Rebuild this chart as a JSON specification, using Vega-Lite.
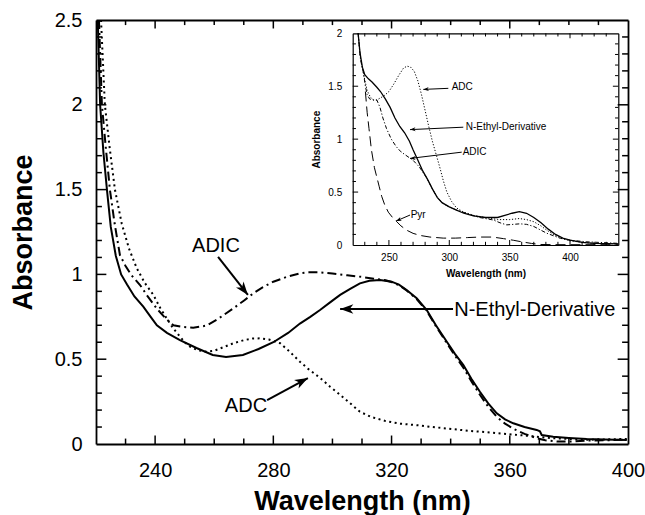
{
  "$schema": "https://vega.github.io/schema/vega-lite/v6.json",
  "width": 532,
  "height": 424,
  "autosize": {"type": "none"},
  "padding": {"left": 96, "top": 20, "right": 17, "bottom": 71},
  "background": "white",
  "config": {
    "view": {"stroke": null},
    "font": "Liberation Sans",
    "axis": {"grid": false, "ticks": false, "domainColor": "black", "labelColor": "black", "titleColor": "black", "labelFont": "Liberation Sans", "titleFont": "Liberation Sans", "labelOverlap": false, "labelFlush": false}
  },
  "datasets": {
    "main": [
      {"s":"NEt","wl":220.6,"a":2.5},{"s":"NEt","wl":221.4,"a":2.0},{"s":"NEt","wl":222.5,"a":1.72},{"s":"NEt","wl":223.7,"a":1.5},{"s":"NEt","wl":225,"a":1.28},{"s":"NEt","wl":226.7,"a":1.11},{"s":"NEt","wl":228.5,"a":1.0},{"s":"NEt","wl":230.5,"a":0.94},{"s":"NEt","wl":233,"a":0.87},{"s":"NEt","wl":236,"a":0.81},{"s":"NEt","wl":238.5,"a":0.75},{"s":"NEt","wl":240.6,"a":0.70},{"s":"NEt","wl":244,"a":0.655},{"s":"NEt","wl":248.4,"a":0.613},{"s":"NEt","wl":254,"a":0.566},{"s":"NEt","wl":259.5,"a":0.525},{"s":"NEt","wl":264,"a":0.513},{"s":"NEt","wl":269.7,"a":0.525},{"s":"NEt","wl":275,"a":0.56},{"s":"NEt","wl":280,"a":0.60},{"s":"NEt","wl":285,"a":0.655},{"s":"NEt","wl":289,"a":0.71},{"s":"NEt","wl":292.5,"a":0.75},{"s":"NEt","wl":295.8,"a":0.79},{"s":"NEt","wl":299.2,"a":0.835},{"s":"NEt","wl":302.6,"a":0.879},{"s":"NEt","wl":306,"a":0.915},{"s":"NEt","wl":309.3,"a":0.947},{"s":"NEt","wl":312.5,"a":0.962},{"s":"NEt","wl":316.1,"a":0.967},{"s":"NEt","wl":320,"a":0.957},{"s":"NEt","wl":322.5,"a":0.94},{"s":"NEt","wl":325.1,"a":0.908},{"s":"NEt","wl":328.5,"a":0.86},{"s":"NEt","wl":331.9,"a":0.79},{"s":"NEt","wl":335,"a":0.70},{"s":"NEt","wl":338.7,"a":0.603},{"s":"NEt","wl":341.5,"a":0.53},{"s":"NEt","wl":344.3,"a":0.466},{"s":"NEt","wl":347,"a":0.385},{"s":"NEt","wl":349.9,"a":0.308},{"s":"NEt","wl":352.7,"a":0.24},{"s":"NEt","wl":355.6,"a":0.181},{"s":"NEt","wl":358.4,"a":0.145},{"s":"NEt","wl":361.2,"a":0.122},{"s":"NEt","wl":365,"a":0.10},{"s":"NEt","wl":369.1,"a":0.083},{"s":"NEt","wl":370.2,"a":0.075},{"s":"NEt","wl":370.8,"a":0.053},{"s":"NEt","wl":374.7,"a":0.043},{"s":"NEt","wl":380,"a":0.036},{"s":"NEt","wl":386,"a":0.03},{"s":"NEt","wl":392,"a":0.027},{"s":"NEt","wl":399.6,"a":0.024},
      {"s":"ADIC","wl":221,"a":2.5},{"s":"ADIC","wl":222,"a":2.0},{"s":"ADIC","wl":223.3,"a":1.75},{"s":"ADIC","wl":224.7,"a":1.5},{"s":"ADIC","wl":226.3,"a":1.3},{"s":"ADIC","wl":228.1,"a":1.114},{"s":"ADIC","wl":230,"a":1.05},{"s":"ADIC","wl":232,"a":0.995},{"s":"ADIC","wl":234.9,"a":0.9375},{"s":"ADIC","wl":237.5,"a":0.87},{"s":"ADIC","wl":240.5,"a":0.80},{"s":"ADIC","wl":243.3,"a":0.745},{"s":"ADIC","wl":246.2,"a":0.70},{"s":"ADIC","wl":249.5,"a":0.69},{"s":"ADIC","wl":252.9,"a":0.686},{"s":"ADIC","wl":257.4,"a":0.698},{"s":"ADIC","wl":261.5,"a":0.74},{"s":"ADIC","wl":266.5,"a":0.80},{"s":"ADIC","wl":270,"a":0.845},{"s":"ADIC","wl":273.2,"a":0.888},{"s":"ADIC","wl":276.5,"a":0.925},{"s":"ADIC","wl":280,"a":0.957},{"s":"ADIC","wl":284.5,"a":0.985},{"s":"ADIC","wl":289,"a":1.006},{"s":"ADIC","wl":292,"a":1.012},{"s":"ADIC","wl":295.8,"a":1.012},{"s":"ADIC","wl":300,"a":1.005},{"s":"ADIC","wl":305,"a":0.995},{"s":"ADIC","wl":310,"a":0.985},{"s":"ADIC","wl":314,"a":0.975},{"s":"ADIC","wl":318,"a":0.965},{"s":"ADIC","wl":320,"a":0.955},{"s":"ADIC","wl":322.5,"a":0.937},{"s":"ADIC","wl":325.1,"a":0.905},{"s":"ADIC","wl":328.5,"a":0.855},{"s":"ADIC","wl":331.9,"a":0.785},{"s":"ADIC","wl":335,"a":0.695},{"s":"ADIC","wl":338.7,"a":0.595},{"s":"ADIC","wl":341.5,"a":0.52},{"s":"ADIC","wl":344.3,"a":0.45},{"s":"ADIC","wl":347,"a":0.37},{"s":"ADIC","wl":349.9,"a":0.29},{"s":"ADIC","wl":352.7,"a":0.22},{"s":"ADIC","wl":355.6,"a":0.16},{"s":"ADIC","wl":358.4,"a":0.12},{"s":"ADIC","wl":361.2,"a":0.09},{"s":"ADIC","wl":365,"a":0.06},{"s":"ADIC","wl":369,"a":0.035},{"s":"ADIC","wl":372,"a":0.022},{"s":"ADIC","wl":376,"a":0.015},{"s":"ADIC","wl":381,"a":0.015},{"s":"ADIC","wl":386,"a":0.02},{"s":"ADIC","wl":392,"a":0.022},{"s":"ADIC","wl":399.6,"a":0.025},
      {"s":"ADC","wl":221.7,"a":2.5},{"s":"ADC","wl":223,"a":2.0},{"s":"ADC","wl":224.6,"a":1.75},{"s":"ADC","wl":226.4,"a":1.5},{"s":"ADC","wl":228.7,"a":1.3},{"s":"ADC","wl":231.2,"a":1.15},{"s":"ADC","wl":233.8,"a":1.036},{"s":"ADC","wl":236.5,"a":0.95},{"s":"ADC","wl":239.4,"a":0.879},{"s":"ADC","wl":241.8,"a":0.80},{"s":"ADC","wl":243.9,"a":0.741},{"s":"ADC","wl":246,"a":0.685},{"s":"ADC","wl":248.4,"a":0.633},{"s":"ADC","wl":250,"a":0.60},{"s":"ADC","wl":251.8,"a":0.574},{"s":"ADC","wl":254.5,"a":0.553},{"s":"ADC","wl":257.4,"a":0.544},{"s":"ADC","wl":260,"a":0.55},{"s":"ADC","wl":263,"a":0.57},{"s":"ADC","wl":266.5,"a":0.594},{"s":"ADC","wl":270,"a":0.612},{"s":"ADC","wl":273,"a":0.622},{"s":"ADC","wl":275.5,"a":0.623},{"s":"ADC","wl":278.5,"a":0.616},{"s":"ADC","wl":282.3,"a":0.594},{"s":"ADC","wl":285.5,"a":0.545},{"s":"ADC","wl":289,"a":0.485},{"s":"ADC","wl":292,"a":0.44},{"s":"ADC","wl":295.8,"a":0.39},{"s":"ADC","wl":299.2,"a":0.338},{"s":"ADC","wl":302.6,"a":0.29},{"s":"ADC","wl":306,"a":0.24},{"s":"ADC","wl":309.3,"a":0.19},{"s":"ADC","wl":313,"a":0.16},{"s":"ADC","wl":318,"a":0.135},{"s":"ADC","wl":323,"a":0.12},{"s":"ADC","wl":329,"a":0.11},{"s":"ADC","wl":335,"a":0.098},{"s":"ADC","wl":340.6,"a":0.088},{"s":"ADC","wl":346,"a":0.078},{"s":"ADC","wl":352,"a":0.07},{"s":"ADC","wl":358,"a":0.06},{"s":"ADC","wl":363,"a":0.053},{"s":"ADC","wl":368,"a":0.045},{"s":"ADC","wl":374,"a":0.035},{"s":"ADC","wl":380,"a":0.03},{"s":"ADC","wl":386,"a":0.025},{"s":"ADC","wl":392,"a":0.027},{"s":"ADC","wl":399.6,"a":0.03}
    ],
    "inset": [
      {"s":"NEt","wl":224.5,"a":2.0},{"s":"NEt","wl":226,"a":1.82},{"s":"NEt","wl":228,"a":1.68},{"s":"NEt","wl":230,"a":1.61},{"s":"NEt","wl":233,"a":1.57},{"s":"NEt","wl":236,"a":1.54},{"s":"NEt","wl":240,"a":1.49},{"s":"NEt","wl":243,"a":1.45},{"s":"NEt","wl":247,"a":1.38},{"s":"NEt","wl":251,"a":1.30},{"s":"NEt","wl":255,"a":1.20},{"s":"NEt","wl":259,"a":1.12},{"s":"NEt","wl":263,"a":1.06},{"s":"NEt","wl":267,"a":0.98},{"s":"NEt","wl":270,"a":0.90},{"s":"NEt","wl":274,"a":0.80},{"s":"NEt","wl":278,"a":0.70},{"s":"NEt","wl":282,"a":0.62},{"s":"NEt","wl":286,"a":0.53},{"s":"NEt","wl":290,"a":0.45},{"s":"NEt","wl":294,"a":0.40},{"s":"NEt","wl":300,"a":0.36},{"s":"NEt","wl":306,"a":0.33},{"s":"NEt","wl":312,"a":0.30},{"s":"NEt","wl":320,"a":0.275},{"s":"NEt","wl":330,"a":0.26},{"s":"NEt","wl":340,"a":0.26},{"s":"NEt","wl":346,"a":0.28},{"s":"NEt","wl":352,"a":0.30},{"s":"NEt","wl":358,"a":0.315},{"s":"NEt","wl":364,"a":0.30},{"s":"NEt","wl":370,"a":0.26},{"s":"NEt","wl":376,"a":0.21},{"s":"NEt","wl":382,"a":0.15},{"s":"NEt","wl":388,"a":0.10},{"s":"NEt","wl":394,"a":0.065},{"s":"NEt","wl":400,"a":0.045},{"s":"NEt","wl":410,"a":0.025},{"s":"NEt","wl":420,"a":0.015},{"s":"NEt","wl":440,"a":0.01},
      {"s":"ADC","wl":224.5,"a":2.0},{"s":"ADC","wl":226,"a":1.80},{"s":"ADC","wl":227.4,"a":1.71},{"s":"ADC","wl":230,"a":1.56},{"s":"ADC","wl":232,"a":1.46},{"s":"ADC","wl":234.5,"a":1.40},{"s":"ADC","wl":237,"a":1.37},{"s":"ADC","wl":240,"a":1.37},{"s":"ADC","wl":243,"a":1.39},{"s":"ADC","wl":246,"a":1.41},{"s":"ADC","wl":250,"a":1.45},{"s":"ADC","wl":254,"a":1.52},{"s":"ADC","wl":258,"a":1.60},{"s":"ADC","wl":262,"a":1.67},{"s":"ADC","wl":265,"a":1.69},{"s":"ADC","wl":268,"a":1.68},{"s":"ADC","wl":271,"a":1.64},{"s":"ADC","wl":274,"a":1.55},{"s":"ADC","wl":277,"a":1.42},{"s":"ADC","wl":280,"a":1.27},{"s":"ADC","wl":283,"a":1.12},{"s":"ADC","wl":286,"a":0.98},{"s":"ADC","wl":289,"a":0.86},{"s":"ADC","wl":292,"a":0.74},{"s":"ADC","wl":295,"a":0.61},{"s":"ADC","wl":298,"a":0.50},{"s":"ADC","wl":302,"a":0.41},{"s":"ADC","wl":306,"a":0.35},{"s":"ADC","wl":312,"a":0.31},{"s":"ADC","wl":320,"a":0.28},{"s":"ADC","wl":330,"a":0.26},{"s":"ADC","wl":340,"a":0.24},{"s":"ADC","wl":350,"a":0.24},{"s":"ADC","wl":358,"a":0.25},{"s":"ADC","wl":364,"a":0.24},{"s":"ADC","wl":370,"a":0.22},{"s":"ADC","wl":376,"a":0.18},{"s":"ADC","wl":382,"a":0.13},{"s":"ADC","wl":388,"a":0.09},{"s":"ADC","wl":394,"a":0.06},{"s":"ADC","wl":400,"a":0.04},{"s":"ADC","wl":410,"a":0.025},{"s":"ADC","wl":420,"a":0.015},{"s":"ADC","wl":440,"a":0.01},
      {"s":"ADIC","wl":224.5,"a":2.0},{"s":"ADIC","wl":226.5,"a":1.75},{"s":"ADIC","wl":228.8,"a":1.63},{"s":"ADIC","wl":230.5,"a":1.50},{"s":"ADIC","wl":232,"a":1.42},{"s":"ADIC","wl":234,"a":1.38},{"s":"ADIC","wl":237,"a":1.37},{"s":"ADIC","wl":240,"a":1.37},{"s":"ADIC","wl":242.6,"a":1.30},{"s":"ADIC","wl":245,"a":1.20},{"s":"ADIC","wl":248,"a":1.10},{"s":"ADIC","wl":252,"a":1.00},{"s":"ADIC","wl":256,"a":0.93},{"s":"ADIC","wl":260,"a":0.88},{"s":"ADIC","wl":265,"a":0.84},{"s":"ADIC","wl":270,"a":0.80},{"s":"ADIC","wl":275,"a":0.74},{"s":"ADIC","wl":281,"a":0.64},{"s":"ADIC","wl":286,"a":0.53},{"s":"ADIC","wl":290,"a":0.45},{"s":"ADIC","wl":295,"a":0.39},{"s":"ADIC","wl":300,"a":0.36},{"s":"ADIC","wl":306,"a":0.33},{"s":"ADIC","wl":314,"a":0.30},{"s":"ADIC","wl":325,"a":0.26},{"s":"ADIC","wl":336.5,"a":0.236},{"s":"ADIC","wl":342,"a":0.21},{"s":"ADIC","wl":347.6,"a":0.19},{"s":"ADIC","wl":353,"a":0.195},{"s":"ADIC","wl":358.6,"a":0.20},{"s":"ADIC","wl":364,"a":0.195},{"s":"ADIC","wl":370,"a":0.175},{"s":"ADIC","wl":375,"a":0.145},{"s":"ADIC","wl":381,"a":0.11},{"s":"ADIC","wl":388,"a":0.08},{"s":"ADIC","wl":392,"a":0.063},{"s":"ADIC","wl":400,"a":0.045},{"s":"ADIC","wl":414,"a":0.03},{"s":"ADIC","wl":439,"a":0.016},
      {"s":"Pyr","wl":230.5,"a":1.45},{"s":"Pyr","wl":232,"a":1.25},{"s":"Pyr","wl":233.5,"a":1.10},{"s":"Pyr","wl":235.5,"a":0.90},{"s":"Pyr","wl":238,"a":0.73},{"s":"Pyr","wl":240,"a":0.64},{"s":"Pyr","wl":242,"a":0.55},{"s":"Pyr","wl":244,"a":0.46},{"s":"Pyr","wl":246.5,"a":0.38},{"s":"Pyr","wl":249.5,"a":0.31},{"s":"Pyr","wl":253,"a":0.26},{"s":"Pyr","wl":256.5,"a":0.22},{"s":"Pyr","wl":260,"a":0.18},{"s":"Pyr","wl":264.7,"a":0.14},{"s":"Pyr","wl":270,"a":0.11},{"s":"Pyr","wl":276,"a":0.09},{"s":"Pyr","wl":284,"a":0.075},{"s":"Pyr","wl":295,"a":0.065},{"s":"Pyr","wl":305,"a":0.065},{"s":"Pyr","wl":315,"a":0.07},{"s":"Pyr","wl":325,"a":0.075},{"s":"Pyr","wl":336,"a":0.075},{"s":"Pyr","wl":345,"a":0.06},{"s":"Pyr","wl":353,"a":0.045},{"s":"Pyr","wl":360,"a":0.03},{"s":"Pyr","wl":368,"a":0.015},{"s":"Pyr","wl":375,"a":0.005},{"s":"Pyr","wl":390,"a":0.003},{"s":"Pyr","wl":440,"a":0.003}
    ],
    "labels": [
      {"p":"main","t":"ADIC","wl":252.5,"a":1.167},
      {"p":"main","t":"ADC","wl":263.6,"a":0.227},
      {"p":"main","t":"N-Ethyl-Derivative","wl":341.2,"a":0.79},
      {"p":"inset","t":"ADC","wl":302.0,"a":1.49},
      {"p":"inset","t":"N-Ethyl-Derivative","wl":313.6,"a":1.113},
      {"p":"inset","t":"ADIC","wl":311.1,"a":0.875},
      {"p":"inset","t":"Pyr","wl":268.0,"a":0.283}
    ],
    "arrows": [
      {"p":"main","id":"ADIC","wl":261.3,"a":1.103,"wl2":271.4,"a2":0.879},
      {"p":"main","id":"ADC","wl":277.9,"a":0.259,"wl2":291.7,"a2":0.389},
      {"p":"main","id":"NEt","wl":340.8,"a":0.796,"wl2":302.6,"a2":0.796},
      {"p":"inset","id":"ADC","wl":299.2,"a":1.48,"wl2":278.5,"a2":1.47},
      {"p":"inset","id":"NEt","wl":311.6,"a":1.113,"wl2":267.5,"a2":1.09},
      {"p":"inset","id":"ADIC","wl":310.3,"a":0.877,"wl2":267.5,"a2":0.818},
      {"p":"inset","id":"Pyr","wl":267.5,"a":0.283,"wl2":255.9,"a2":0.226}
    ],
    "ticks": [
      {"g":"mx","v":230,"m":false},{"g":"mx","v":240,"m":true},{"g":"mx","v":250,"m":false},{"g":"mx","v":260,"m":false},{"g":"mx","v":270,"m":false},{"g":"mx","v":280,"m":true},{"g":"mx","v":290,"m":false},{"g":"mx","v":300,"m":false},{"g":"mx","v":310,"m":false},{"g":"mx","v":320,"m":true},{"g":"mx","v":330,"m":false},{"g":"mx","v":340,"m":false},{"g":"mx","v":350,"m":false},{"g":"mx","v":360,"m":true},{"g":"mx","v":370,"m":false},{"g":"mx","v":380,"m":false},{"g":"mx","v":390,"m":false},
      {"g":"my","v":0.1,"m":false},{"g":"my","v":0.2,"m":false},{"g":"my","v":0.3,"m":false},{"g":"my","v":0.4,"m":false},{"g":"my","v":0.5,"m":true},{"g":"my","v":0.6,"m":false},{"g":"my","v":0.7,"m":false},{"g":"my","v":0.8,"m":false},{"g":"my","v":0.9,"m":false},{"g":"my","v":1.0,"m":true},{"g":"my","v":1.1,"m":false},{"g":"my","v":1.2,"m":false},{"g":"my","v":1.3,"m":false},{"g":"my","v":1.4,"m":false},{"g":"my","v":1.5,"m":true},{"g":"my","v":1.6,"m":false},{"g":"my","v":1.7,"m":false},{"g":"my","v":1.8,"m":false},{"g":"my","v":1.9,"m":false},{"g":"my","v":2.0,"m":true},{"g":"my","v":2.1,"m":false},{"g":"my","v":2.2,"m":false},{"g":"my","v":2.3,"m":false},{"g":"my","v":2.4,"m":false},
      {"g":"ix","v":230,"m":false},{"g":"ix","v":240,"m":false},{"g":"ix","v":250,"m":true},{"g":"ix","v":260,"m":false},{"g":"ix","v":270,"m":false},{"g":"ix","v":280,"m":false},{"g":"ix","v":290,"m":false},{"g":"ix","v":300,"m":true},{"g":"ix","v":310,"m":false},{"g":"ix","v":320,"m":false},{"g":"ix","v":330,"m":false},{"g":"ix","v":340,"m":false},{"g":"ix","v":350,"m":true},{"g":"ix","v":360,"m":false},{"g":"ix","v":370,"m":false},{"g":"ix","v":380,"m":false},{"g":"ix","v":390,"m":false},{"g":"ix","v":400,"m":true},{"g":"ix","v":410,"m":false},{"g":"ix","v":420,"m":false},{"g":"ix","v":430,"m":false},
      {"g":"iy","v":0.1,"m":false},{"g":"iy","v":0.2,"m":false},{"g":"iy","v":0.3,"m":false},{"g":"iy","v":0.4,"m":false},{"g":"iy","v":0.5,"m":true},{"g":"iy","v":0.6,"m":false},{"g":"iy","v":0.7,"m":false},{"g":"iy","v":0.8,"m":false},{"g":"iy","v":0.9,"m":false},{"g":"iy","v":1.0,"m":true},{"g":"iy","v":1.1,"m":false},{"g":"iy","v":1.2,"m":false},{"g":"iy","v":1.3,"m":false},{"g":"iy","v":1.4,"m":false},{"g":"iy","v":1.5,"m":true},{"g":"iy","v":1.6,"m":false},{"g":"iy","v":1.7,"m":false},{"g":"iy","v":1.8,"m":false},{"g":"iy","v":1.9,"m":false}
    ]
  },
  "resolve": {"scale": {"x": "independent", "y": "independent"}},
  "layer": [
    {
      "resolve": {"axis": {"x": "independent", "y": "independent"}},
      "layer": [
        {
          "data": {"name": "main"},
          "transform": [{"filter": "datum.s === 'NEt'"}],
          "mark": {"type": "line", "color": "black", "strokeWidth": 2, "clip": true},
          "encoding": {
            "x": {"field": "wl", "type": "quantitative", "scale": {"domain": [220, 400], "nice": false, "zero": false},
              "axis": {"orient": "bottom", "values": [240, 280, 320, 360, 400], "ticks": false, "domainWidth": 1.8, "labelFontSize": 20, "labelPadding": 16,
                "title": "Wavelength (nm)", "titleFontSize": 27, "titleFontWeight": "bold", "titleX": 266, "titleY": 65, "titleBaseline": "alphabetic"}},
            "y": {"field": "a", "type": "quantitative", "scale": {"domain": [0, 2.5], "nice": false, "zero": false},
              "axis": {"orient": "left", "values": [0, 0.5, 1, 1.5, 2, 2.5], "format": "~g", "ticks": false, "domainWidth": 1.8, "labelFontSize": 20, "labelPadding": 14,
                "title": "Absorbance", "titleFontSize": 27, "titleFontWeight": "bold", "titleX": -73, "titleY": 212, "titleBaseline": "middle", "titleAngle": -90}}
          }
        },
        {
          "data": {"name": "main"},
          "transform": [{"filter": "datum.s === 'ADIC'"}],
          "mark": {"type": "line", "color": "black", "strokeWidth": 2, "strokeDash": [9, 4, 2, 4], "clip": true},
          "encoding": {
            "x": {"field": "wl", "type": "quantitative", "scale": {"domain": [220, 400], "nice": false, "zero": false},
              "axis": {"orient": "top", "values": [240, 280, 320, 360, 400], "labels": false, "domain": true, "domainWidth": 1.8, "ticks": false, "title": null}},
            "y": {"field": "a", "type": "quantitative", "scale": {"domain": [0, 2.5], "nice": false, "zero": false},
              "axis": {"orient": "right", "values": [0, 0.5, 1, 1.5, 2, 2.5], "labels": false, "domain": true, "domainWidth": 1.8, "ticks": false, "title": null}}
          }
        },
        {
          "data": {"name": "main"},
          "transform": [{"filter": "datum.s === 'ADC'"}],
          "mark": {"type": "line", "color": "black", "strokeWidth": 2, "strokeDash": [2, 3.5], "clip": true},
          "encoding": {
            "x": {"field": "wl", "type": "quantitative", "scale": {"domain": [220, 400], "nice": false, "zero": false}, "axis": null},
            "y": {"field": "a", "type": "quantitative", "scale": {"domain": [0, 2.5], "nice": false, "zero": false}, "axis": null}
          }
        },
        {
          "data": {"name": "ticks"},
          "transform": [{"filter": "datum.g === 'mx' && datum.m"}],
          "mark": {"type": "rule", "color": "black", "strokeWidth": 1.5},
          "encoding": {
            "x": {"field": "v", "type": "quantitative", "scale": {"domain": [220, 400], "nice": false, "zero": false}, "axis": null},
            "y": {"datum": 0, "type": "quantitative", "scale": {"domain": [0, 2.5], "nice": false, "zero": false}, "axis": null},
            "y2": {"datum": 0.05}
          }
        },
        {
          "data": {"name": "ticks"},
          "transform": [{"filter": "datum.g === 'mx' && !datum.m"}],
          "mark": {"type": "rule", "color": "black", "strokeWidth": 1.5},
          "encoding": {
            "x": {"field": "v", "type": "quantitative", "scale": {"domain": [220, 400], "nice": false, "zero": false}, "axis": null},
            "y": {"datum": 0, "type": "quantitative", "scale": {"domain": [0, 2.5], "nice": false, "zero": false}, "axis": null},
            "y2": {"datum": 0.032}
          }
        },
        {
          "data": {"name": "ticks"},
          "transform": [{"filter": "datum.g === 'mx' && datum.m"}],
          "mark": {"type": "rule", "color": "black", "strokeWidth": 1.5},
          "encoding": {
            "x": {"field": "v", "type": "quantitative", "scale": {"domain": [220, 400], "nice": false, "zero": false}, "axis": null},
            "y": {"datum": 2.5, "type": "quantitative", "scale": {"domain": [0, 2.5], "nice": false, "zero": false}, "axis": null},
            "y2": {"datum": 2.45}
          }
        },
        {
          "data": {"name": "ticks"},
          "transform": [{"filter": "datum.g === 'mx' && !datum.m"}],
          "mark": {"type": "rule", "color": "black", "strokeWidth": 1.5},
          "encoding": {
            "x": {"field": "v", "type": "quantitative", "scale": {"domain": [220, 400], "nice": false, "zero": false}, "axis": null},
            "y": {"datum": 2.5, "type": "quantitative", "scale": {"domain": [0, 2.5], "nice": false, "zero": false}, "axis": null},
            "y2": {"datum": 2.47}
          }
        },
        {
          "data": {"name": "ticks"},
          "transform": [{"filter": "datum.g === 'my' && datum.m"}],
          "mark": {"type": "rule", "color": "black", "strokeWidth": 1.5},
          "encoding": {
            "y": {"field": "v", "type": "quantitative", "scale": {"domain": [0, 2.5], "nice": false, "zero": false}, "axis": null},
            "x": {"datum": 220, "type": "quantitative", "scale": {"domain": [220, 400], "nice": false, "zero": false}, "axis": null},
            "x2": {"datum": 223.5}
          }
        },
        {
          "data": {"name": "ticks"},
          "transform": [{"filter": "datum.g === 'my' && !datum.m"}],
          "mark": {"type": "rule", "color": "black", "strokeWidth": 1.5},
          "encoding": {
            "y": {"field": "v", "type": "quantitative", "scale": {"domain": [0, 2.5], "nice": false, "zero": false}, "axis": null},
            "x": {"datum": 220, "type": "quantitative", "scale": {"domain": [220, 400], "nice": false, "zero": false}, "axis": null},
            "x2": {"datum": 222.0}
          }
        },
        {
          "data": {"name": "ticks"},
          "transform": [{"filter": "datum.g === 'my' && datum.m"}],
          "mark": {"type": "rule", "color": "black", "strokeWidth": 1.5},
          "encoding": {
            "y": {"field": "v", "type": "quantitative", "scale": {"domain": [0, 2.5], "nice": false, "zero": false}, "axis": null},
            "x": {"datum": 400, "type": "quantitative", "scale": {"domain": [220, 400], "nice": false, "zero": false}, "axis": null},
            "x2": {"datum": 396.5}
          }
        },
        {
          "data": {"name": "ticks"},
          "transform": [{"filter": "datum.g === 'my' && !datum.m"}],
          "mark": {"type": "rule", "color": "black", "strokeWidth": 1.5},
          "encoding": {
            "y": {"field": "v", "type": "quantitative", "scale": {"domain": [0, 2.5], "nice": false, "zero": false}, "axis": null},
            "x": {"datum": 400, "type": "quantitative", "scale": {"domain": [220, 400], "nice": false, "zero": false}, "axis": null},
            "x2": {"datum": 398.0}
          }
        },
        {
          "data": {"name": "labels"},
          "transform": [{"filter": "datum.p === 'main'"}],
          "mark": {"type": "text", "font": "Liberation Sans", "fontSize": 20, "align": "left", "baseline": "middle", "color": "black"},
          "encoding": {
            "x": {"field": "wl", "type": "quantitative", "scale": {"domain": [220, 400], "nice": false, "zero": false}, "axis": null},
            "y": {"field": "a", "type": "quantitative", "scale": {"domain": [0, 2.5], "nice": false, "zero": false}, "axis": null},
            "text": {"field": "t"}
          }
        },
        {
          "data": {"name": "arrows"},
          "transform": [{"filter": "datum.p === 'main'"}],
          "mark": {"type": "rule", "color": "black", "strokeWidth": 2},
          "encoding": {
            "x": {"field": "wl", "type": "quantitative", "scale": {"domain": [220, 400], "nice": false, "zero": false}, "axis": null},
            "y": {"field": "a", "type": "quantitative", "scale": {"domain": [0, 2.5], "nice": false, "zero": false}, "axis": null},
            "x2": {"field": "wl2"},
            "y2": {"field": "a2"}
          }
        },
        {
          "data": {"name": "arrows"},
          "transform": [{"filter": "datum.p === 'main' && datum.id === 'ADIC'"}],
          "mark": {"type": "point", "shape": "M0,0L0.8,2.2L0,1.6L-0.8,2.2Z", "size": 144, "filled": true, "color": "black", "opacity": 1, "angle": 141.7},
          "encoding": {
            "x": {"field": "wl2", "type": "quantitative", "scale": {"domain": [220, 400], "nice": false, "zero": false}, "axis": null},
            "y": {"field": "a2", "type": "quantitative", "scale": {"domain": [0, 2.5], "nice": false, "zero": false}, "axis": null}
          }
        },
        {
          "data": {"name": "arrows"},
          "transform": [{"filter": "datum.p === 'main' && datum.id === 'ADC'"}],
          "mark": {"type": "point", "shape": "M0,0L0.8,2.2L0,1.6L-0.8,2.2Z", "size": 144, "filled": true, "color": "black", "opacity": 1, "angle": 61.8},
          "encoding": {
            "x": {"field": "wl2", "type": "quantitative", "scale": {"domain": [220, 400], "nice": false, "zero": false}, "axis": null},
            "y": {"field": "a2", "type": "quantitative", "scale": {"domain": [0, 2.5], "nice": false, "zero": false}, "axis": null}
          }
        },
        {
          "data": {"name": "arrows"},
          "transform": [{"filter": "datum.p === 'main' && datum.id === 'NEt'"}],
          "mark": {"type": "point", "shape": "M0,0L0.8,2.2L0,1.6L-0.8,2.2Z", "size": 144, "filled": true, "color": "black", "opacity": 1, "angle": 270},
          "encoding": {
            "x": {"field": "wl2", "type": "quantitative", "scale": {"domain": [220, 400], "nice": false, "zero": false}, "axis": null},
            "y": {"field": "a2", "type": "quantitative", "scale": {"domain": [0, 2.5], "nice": false, "zero": false}, "axis": null}
          }
        }
      ]
    },
    {
      "resolve": {"axis": {"x": "independent", "y": "independent"}},
      "layer": [
        {
          "data": {"name": "inset"},
          "transform": [{"filter": "datum.s === 'NEt'"}],
          "mark": {"type": "line", "color": "black", "strokeWidth": 1.3, "clip": true},
          "encoding": {
            "x": {"field": "wl", "type": "quantitative", "scale": {"domain": [220, 440], "range": [256.7, 522.3], "nice": false, "zero": false},
              "axis": {"orient": "bottom", "offset": -199, "values": [250, 300, 350, 400], "ticks": false, "domainWidth": 1.2, "labelFontSize": 10, "labelPadding": 7,
                "title": "Wavelength (nm)", "titleFontSize": 10, "titleFontWeight": "bold", "titleX": 389.5, "titleY": 28, "titleBaseline": "middle"}},
            "y": {"field": "a", "type": "quantitative", "scale": {"domain": [0, 2], "range": [225, 13.3], "nice": false, "zero": false},
              "axis": {"orient": "left", "offset": -256.7, "values": [0, 0.5, 1, 1.5, 2], "format": "~g", "ticks": false, "domainWidth": 1.2, "labelFontSize": 10, "labelPadding": 11,
                "title": "Absorbance", "titleFontSize": 10, "titleFontWeight": "bold", "titleX": -36.7, "titleY": 119.2, "titleBaseline": "middle", "titleAngle": -90}}
          }
        },
        {
          "data": {"name": "inset"},
          "transform": [{"filter": "datum.s === 'ADIC'"}],
          "mark": {"type": "line", "color": "black", "strokeWidth": 1, "strokeDash": [4, 2, 1.2, 2], "clip": true},
          "encoding": {
            "x": {"field": "wl", "type": "quantitative", "scale": {"domain": [220, 440], "range": [256.7, 522.3], "nice": false, "zero": false},
              "axis": {"orient": "top", "offset": -13.3, "values": [250, 300, 350, 400], "labels": false, "domain": true, "domainWidth": 1.2, "ticks": false, "title": null}},
            "y": {"field": "a", "type": "quantitative", "scale": {"domain": [0, 2], "range": [225, 13.3], "nice": false, "zero": false},
              "axis": {"orient": "right", "offset": -9.7, "values": [0, 0.5, 1, 1.5, 2], "labels": false, "domain": true, "domainWidth": 1.2, "ticks": false, "title": null}}
          }
        },
        {
          "data": {"name": "inset"},
          "transform": [{"filter": "datum.s === 'ADC'"}],
          "mark": {"type": "line", "color": "black", "strokeWidth": 1, "strokeDash": [1.2, 1.8], "clip": true},
          "encoding": {
            "x": {"field": "wl", "type": "quantitative", "scale": {"domain": [220, 440], "range": [256.7, 522.3], "nice": false, "zero": false}, "axis": null},
            "y": {"field": "a", "type": "quantitative", "scale": {"domain": [0, 2], "range": [225, 13.3], "nice": false, "zero": false}, "axis": null}
          }
        },
        {
          "data": {"name": "inset"},
          "transform": [{"filter": "datum.s === 'Pyr'"}],
          "mark": {"type": "line", "color": "black", "strokeWidth": 1, "strokeDash": [10, 5], "clip": true},
          "encoding": {
            "x": {"field": "wl", "type": "quantitative", "scale": {"domain": [220, 440], "range": [256.7, 522.3], "nice": false, "zero": false}, "axis": null},
            "y": {"field": "a", "type": "quantitative", "scale": {"domain": [0, 2], "range": [225, 13.3], "nice": false, "zero": false}, "axis": null}
          }
        },
        {
          "data": {"name": "ticks"},
          "transform": [{"filter": "datum.g === 'ix' && datum.m"}],
          "mark": {"type": "rule", "color": "black", "strokeWidth": 1},
          "encoding": {
            "x": {"field": "v", "type": "quantitative", "scale": {"domain": [220, 440], "range": [256.7, 522.3], "nice": false, "zero": false}, "axis": null},
            "y": {"datum": 0, "type": "quantitative", "scale": {"domain": [0, 2], "range": [225, 13.3], "nice": false, "zero": false}, "axis": null},
            "y2": {"datum": 0.047}
          }
        },
        {
          "data": {"name": "ticks"},
          "transform": [{"filter": "datum.g === 'ix' && !datum.m"}],
          "mark": {"type": "rule", "color": "black", "strokeWidth": 1},
          "encoding": {
            "x": {"field": "v", "type": "quantitative", "scale": {"domain": [220, 440], "range": [256.7, 522.3], "nice": false, "zero": false}, "axis": null},
            "y": {"datum": 0, "type": "quantitative", "scale": {"domain": [0, 2], "range": [225, 13.3], "nice": false, "zero": false}, "axis": null},
            "y2": {"datum": 0.03}
          }
        },
        {
          "data": {"name": "ticks"},
          "transform": [{"filter": "datum.g === 'ix' && datum.m"}],
          "mark": {"type": "rule", "color": "black", "strokeWidth": 1},
          "encoding": {
            "x": {"field": "v", "type": "quantitative", "scale": {"domain": [220, 440], "range": [256.7, 522.3], "nice": false, "zero": false}, "axis": null},
            "y": {"datum": 2, "type": "quantitative", "scale": {"domain": [0, 2], "range": [225, 13.3], "nice": false, "zero": false}, "axis": null},
            "y2": {"datum": 1.953}
          }
        },
        {
          "data": {"name": "ticks"},
          "transform": [{"filter": "datum.g === 'ix' && !datum.m"}],
          "mark": {"type": "rule", "color": "black", "strokeWidth": 1},
          "encoding": {
            "x": {"field": "v", "type": "quantitative", "scale": {"domain": [220, 440], "range": [256.7, 522.3], "nice": false, "zero": false}, "axis": null},
            "y": {"datum": 2, "type": "quantitative", "scale": {"domain": [0, 2], "range": [225, 13.3], "nice": false, "zero": false}, "axis": null},
            "y2": {"datum": 1.97}
          }
        },
        {
          "data": {"name": "ticks"},
          "transform": [{"filter": "datum.g === 'iy' && datum.m"}],
          "mark": {"type": "rule", "color": "black", "strokeWidth": 1},
          "encoding": {
            "y": {"field": "v", "type": "quantitative", "scale": {"domain": [0, 2], "range": [225, 13.3], "nice": false, "zero": false}, "axis": null},
            "x": {"datum": 220, "type": "quantitative", "scale": {"domain": [220, 440], "range": [256.7, 522.3], "nice": false, "zero": false}, "axis": null},
            "x2": {"datum": 224.5}
          }
        },
        {
          "data": {"name": "ticks"},
          "transform": [{"filter": "datum.g === 'iy' && !datum.m"}],
          "mark": {"type": "rule", "color": "black", "strokeWidth": 1},
          "encoding": {
            "y": {"field": "v", "type": "quantitative", "scale": {"domain": [0, 2], "range": [225, 13.3], "nice": false, "zero": false}, "axis": null},
            "x": {"datum": 220, "type": "quantitative", "scale": {"domain": [220, 440], "range": [256.7, 522.3], "nice": false, "zero": false}, "axis": null},
            "x2": {"datum": 222.7}
          }
        },
        {
          "data": {"name": "ticks"},
          "transform": [{"filter": "datum.g === 'iy' && datum.m"}],
          "mark": {"type": "rule", "color": "black", "strokeWidth": 1},
          "encoding": {
            "y": {"field": "v", "type": "quantitative", "scale": {"domain": [0, 2], "range": [225, 13.3], "nice": false, "zero": false}, "axis": null},
            "x": {"datum": 440, "type": "quantitative", "scale": {"domain": [220, 440], "range": [256.7, 522.3], "nice": false, "zero": false}, "axis": null},
            "x2": {"datum": 435.5}
          }
        },
        {
          "data": {"name": "ticks"},
          "transform": [{"filter": "datum.g === 'iy' && !datum.m"}],
          "mark": {"type": "rule", "color": "black", "strokeWidth": 1},
          "encoding": {
            "y": {"field": "v", "type": "quantitative", "scale": {"domain": [0, 2], "range": [225, 13.3], "nice": false, "zero": false}, "axis": null},
            "x": {"datum": 440, "type": "quantitative", "scale": {"domain": [220, 440], "range": [256.7, 522.3], "nice": false, "zero": false}, "axis": null},
            "x2": {"datum": 437.3}
          }
        },
        {
          "data": {"name": "labels"},
          "transform": [{"filter": "datum.p === 'inset'"}],
          "mark": {"type": "text", "font": "Liberation Sans", "fontSize": 10, "align": "left", "baseline": "middle", "color": "black"},
          "encoding": {
            "x": {"field": "wl", "type": "quantitative", "scale": {"domain": [220, 440], "range": [256.7, 522.3], "nice": false, "zero": false}, "axis": null},
            "y": {"field": "a", "type": "quantitative", "scale": {"domain": [0, 2], "range": [225, 13.3], "nice": false, "zero": false}, "axis": null},
            "text": {"field": "t"}
          }
        },
        {
          "data": {"name": "arrows"},
          "transform": [{"filter": "datum.p === 'inset'"}],
          "mark": {"type": "rule", "color": "black", "strokeWidth": 1},
          "encoding": {
            "x": {"field": "wl", "type": "quantitative", "scale": {"domain": [220, 440], "range": [256.7, 522.3], "nice": false, "zero": false}, "axis": null},
            "y": {"field": "a", "type": "quantitative", "scale": {"domain": [0, 2], "range": [225, 13.3], "nice": false, "zero": false}, "axis": null},
            "x2": {"field": "wl2"},
            "y2": {"field": "a2"}
          }
        },
        {
          "data": {"name": "arrows"},
          "transform": [{"filter": "datum.p === 'inset' && datum.id !== 'Pyr'"}],
          "mark": {"type": "point", "shape": "M0,0L0.8,2.2L0,1.6L-0.8,2.2Z", "size": 25, "filled": true, "color": "black", "opacity": 1, "angle": 266},
          "encoding": {
            "x": {"field": "wl2", "type": "quantitative", "scale": {"domain": [220, 440], "range": [256.7, 522.3], "nice": false, "zero": false}, "axis": null},
            "y": {"field": "a2", "type": "quantitative", "scale": {"domain": [0, 2], "range": [225, 13.3], "nice": false, "zero": false}, "axis": null}
          }
        },
        {
          "data": {"name": "arrows"},
          "transform": [{"filter": "datum.p === 'inset' && datum.id === 'Pyr'"}],
          "mark": {"type": "point", "shape": "M0,0L0.8,2.2L0,1.6L-0.8,2.2Z", "size": 25, "filled": true, "color": "black", "opacity": 1, "angle": 247},
          "encoding": {
            "x": {"field": "wl2", "type": "quantitative", "scale": {"domain": [220, 440], "range": [256.7, 522.3], "nice": false, "zero": false}, "axis": null},
            "y": {"field": "a2", "type": "quantitative", "scale": {"domain": [0, 2], "range": [225, 13.3], "nice": false, "zero": false}, "axis": null}
          }
        }
      ]
    }
  ]
}
